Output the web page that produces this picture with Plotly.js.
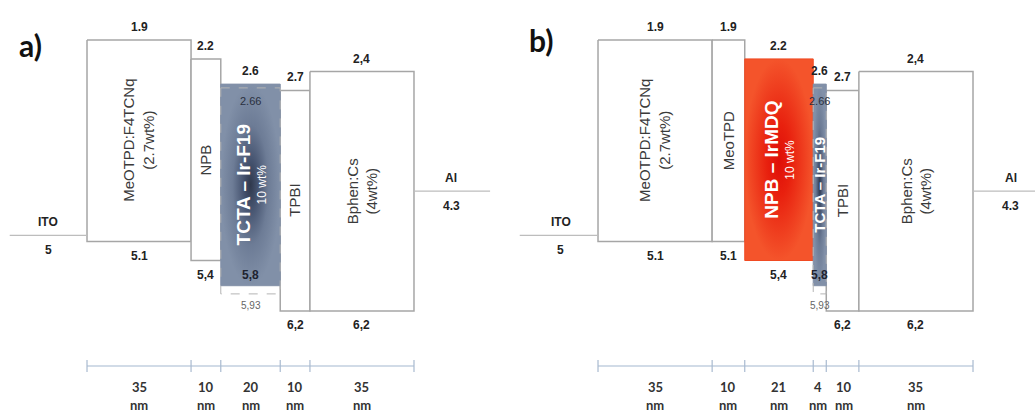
<!DOCTYPE html>
<html><head><meta charset="utf-8">
<script src="https://cdn.plot.ly/plotly-3.0.1.min.js"></script>
<style>html,body{margin:0;padding:0;background:#fff}#chart{width:1035px;height:417px}</style>
</head><body><div id="chart"></div>
<script>
// ---------- Data: panel a ----------
const aLayers = ['MeOTPD:F4TCNq<br>(2.7wt%)', 'NPB', 'TCTA – Ir-F19', 'TPBI', 'Bphen:Cs<br>(4wt%)'];
const aThickness = [35, 10, 20, 10, 35];           // nm
const aLumo = [1.9, 2.2, 2.6, 2.7, 2.4];            // eV (below vacuum)
const aHomo = [5.1, 5.4, 5.8, 6.2, 6.2];
const aLumoLabels = ['1.9', '2.2', '2.6', '2.7', '2,4'];
const aHomoLabels = ['5.1', '5,4', '5,8', '6,2', '6,2'];
const aNotes = ['', '', '10 wt%', '', ''];

// ---------- Data: panel b ----------
const bLayers = ['MeOTPD:F4TCNq<br>(2.7wt%)', 'MeoTPD', 'NPB – IrMDQ', 'TCTA – Ir-F19', 'TPBI', 'Bphen:Cs<br>(4wt%)'];
const bThickness = [35, 10, 21, 4, 10, 35];
const bLumo = [1.9, 1.9, 2.2, 2.6, 2.7, 2.4];
const bHomo = [5.1, 5.1, 5.4, 5.8, 6.2, 6.2];
const bLumoLabels = ['1.9', '1.9', '2.2', '2.6', '2.7', '2,4'];
const bHomoLabels = ['5.1', '5.1', '5,4', '5,8', '6,2', '6,2'];
const bNotes = ['', '', '10 wt%', '', '', ''];

// Ir-F19 guest levels (dashed) inside the TCTA host
const guestHost = 'TCTA – Ir-F19';
const guestLumo = 2.66, guestHomo = 5.93;
const guestLumoLabel = '2.66', guestHomoLabel = '5,93';

// Electrodes
const anodeName = 'ITO', anodeLevel = 5.0, anodeLabel = '5';
const cathodeName = 'Al', cathodeLevel = 4.3, cathodeLabel = '4.3';

// ---------- Styles ----------
const ARIAL = 'Liberation Sans, Arial, sans-serif';
const CAL = 'Lato, Open Sans, sans-serif';
const STYLE = {
  plain: {fill: '#ffffff', line: '#a6a6a6', lw: 1.5},
  'TCTA – Ir-F19': {fill: '#7b89a1', line: '#8391a8', lw: 1,
    gradient: [[0, '#2f384c'], [0.25, '#465470'], [0.6, '#6d7c96'], [1, '#8190a8']]},
  'NPB – IrMDQ': {fill: '#f04a22', line: '#f04a22', lw: 1,
    gradient: [[0, '#de0e08'], [0.35, '#e8200e'], [1, '#f4542b']]}
};

const traces = [], shapes = [], annotations = [];

function ann(o) {
  annotations.push(Object.assign({showarrow: false, yref: 'y',
    font: {family: ARIAL, size: 12, color: '#222'}}, o));
}

function panel(p) {
  const xa = p.xaxis;
  const edges = [0];
  p.thickness.forEach(t => edges.push(edges[edges.length - 1] + t));
  const total = edges[edges.length - 1];
  const order = p.layers.map((n, i) => i).sort((i, j) => (STYLE[p.layers[i]] ? 1 : 0) - (STYLE[p.layers[j]] ? 1 : 0));
  order.forEach(i => {
    const name = p.layers[i];
    const st = STYLE[name] || STYLE.plain;
    const x0 = edges[i], x1 = edges[i + 1];
    const tr = {type: 'scatter', mode: 'lines', xaxis: xa, yaxis: 'y',
      x: [x0, x1, x1, x0, x0], y: [p.lumo[i], p.lumo[i], p.homo[i], p.homo[i], p.lumo[i]],
      fill: 'toself', fillcolor: st.fill, line: {color: st.line, width: st.lw},
      hoverinfo: 'skip', showlegend: false};
    if (st.gradient) tr.fillgradient = {type: 'radial', colorscale: st.gradient};
    traces.push(tr);
  });
  p.layers.forEach((name, i) => {
    const x0 = edges[i], x1 = edges[i + 1], xm = (x0 + x1) / 2;
    const ym = (p.lumo[i] + p.homo[i]) / 2;
    const doped = !!STYLE[name];
    const narrow = (x1 - x0) * p.pxPerNm < 30;
    ann({xref: xa, x: xm, y: p.lumo[i], text: '<b>' + p.lumoLabels[i] + '</b>', yanchor: 'bottom', yshift: 4});
    if (name === guestHost) {
      ann({xref: xa, x: xm, y: p.homo[i], text: '<b>' + p.homoLabels[i] + '</b>', yanchor: 'bottom', yshift: 2,
        font: {family: ARIAL, size: 12, color: '#1e2330'}});
      traces.push({type: 'scatter', mode: 'lines', xaxis: xa, yaxis: 'y',
        x: [x0, x1, x1, x0, x0], y: [guestLumo, guestLumo, guestHomo, guestHomo, guestLumo],
        line: {color: '#b4b4b4', width: 1, dash: 'dash'}, hoverinfo: 'skip', showlegend: false});
      ann({xref: xa, x: xm, y: guestLumo, text: guestLumoLabel, yanchor: 'top', yshift: -5,
        font: {family: ARIAL, size: 11, color: '#2a3040'}});
      ann({xref: xa, x: xm, y: guestHomo, text: guestHomoLabel, yanchor: 'top', yshift: -4,
        font: {family: ARIAL, size: 10, color: '#666'}});
    } else {
      ann({xref: xa, x: xm, y: p.homo[i], text: '<b>' + p.homoLabels[i] + '</b>', yanchor: 'top', yshift: -5});
    }
    if (doped) {
      const hasNote = !!p.notes[i];
      ann({xref: xa, x: xm, y: ym, text: '<b>' + name + '</b>', textangle: -90,
        xshift: hasNote ? -7 : 0, font: {family: ARIAL, size: narrow ? 15 : 19, color: '#ffffff'}});
      if (hasNote) ann({xref: xa, x: xm, y: ym, text: p.notes[i], textangle: -90, xshift: 11,
        font: {family: ARIAL, size: 12, color: '#ffffff'}});
    } else {
      ann({xref: xa, x: xm, y: ym, text: name, textangle: -90,
        font: {family: ARIAL, size: 15, color: '#3a3a3a'}});
    }
  });
  // electrodes
  traces.push({type: 'scatter', mode: 'lines', xaxis: xa, yaxis: 'y',
    x: [-p.anodeLead, 0], y: [anodeLevel, anodeLevel], line: {color: '#bdbdbd', width: 1.2},
    hoverinfo: 'skip', showlegend: false});
  traces.push({type: 'scatter', mode: 'lines', xaxis: xa, yaxis: 'y',
    x: [total, total + p.cathodeLead], y: [cathodeLevel, cathodeLevel], line: {color: '#bdbdbd', width: 1.2},
    hoverinfo: 'skip', showlegend: false});
  ann({xref: xa, x: -p.anodeLabelPos, y: anodeLevel, text: '<b>' + anodeName + '</b>', yanchor: 'bottom', yshift: 4});
  ann({xref: xa, x: -p.anodeLabelPos, y: anodeLevel, text: '<b>' + anodeLabel + '</b>', yanchor: 'top', yshift: -6});
  ann({xref: xa, x: total + p.cathodeLabelPos, y: cathodeLevel, text: '<b>' + cathodeName + '</b>', yanchor: 'bottom', yshift: 4});
  ann({xref: xa, x: total + p.cathodeLabelPos, y: cathodeLevel, text: '<b>' + cathodeLabel + '</b>', yanchor: 'top', yshift: -6});
  // thickness scale bar
  const barY = 1 - 366 / 417;
  shapes.push({type: 'line', xref: xa, yref: 'paper', x0: 0, x1: total, y0: barY, y1: barY,
    line: {color: '#c2cfdf', width: 1.5}});
  edges.forEach(e => shapes.push({type: 'line', xref: xa, yref: 'paper', ysizemode: 'pixel', yanchor: barY,
    x0: e, x1: e, y0: -6, y1: 6, line: {color: '#a9bad0', width: 1.2}}));
  // label centres (px) with simple overlap avoidance
  const mids = p.thickness.map((t, i) => (edges[i] + edges[i + 1]) / 2);
  const shifts = mids.map(() => 0);
  const minGap = 26;
  for (let it = 0; it < 20; it++) {
    for (let i = 0; i < mids.length - 1; i++) {
      const a = mids[i] * p.pxPerNm + shifts[i], b = mids[i + 1] * p.pxPerNm + shifts[i + 1];
      if (b - a < minGap) { const d = (minGap - (b - a)) / 2; shifts[i] -= d; shifts[i + 1] += d; }
    }
  }
  p.thickness.forEach((t, i) => {
    annotations.push({xref: xa, yref: 'paper', x: mids[i], xshift: shifts[i], y: 1 - 387 / 417, yanchor: 'middle',
      text: '<b>' + t + '</b>', showarrow: false, font: {family: CAL, size: 13, color: '#333'}});
    annotations.push({xref: xa, yref: 'paper', x: mids[i], xshift: shifts[i], y: 1 - 405 / 417, yanchor: 'middle',
      text: '<b>nm</b>', showarrow: false, font: {family: CAL, size: 13, color: '#333'}});
  });
  annotations.push({xref: 'paper', yref: 'paper', x: p.letterX, y: p.letterY, xanchor: 'center', yanchor: 'middle',
    text: '<b>' + p.letter + '</b>', showarrow: false, font: {family: CAL, size: 30, color: '#111'}});
}

const rangeA = [-29.27, 144.82], rangeB = [-24.69, 134.01];
panel({xaxis: 'x', layers: aLayers, thickness: aThickness, lumo: aLumo, homo: aHomo,
  lumoLabels: aLumoLabels, homoLabels: aHomoLabels, notes: aNotes, pxPerNm: 517.5 / (rangeA[1] - rangeA[0]),
  anodeLead: 26, anodeLabelPos: 13, cathodeLead: 25.6, cathodeLabelPos: 12.5,
  letter: 'a)', letterX: 30 / 1035, letterY: 1 - 45 / 417});
panel({xaxis: 'x2', layers: bLayers, thickness: bThickness, lumo: bLumo, homo: bHomo,
  lumoLabels: bLumoLabels, homoLabels: bHomoLabels, notes: bNotes, pxPerNm: 517.5 / (rangeB[1] - rangeB[0]),
  anodeLead: 24, anodeLabelPos: 11.5, cathodeLead: 20, cathodeLabelPos: 11.5,
  letter: 'b)', letterX: 541 / 1035, letterY: 1 - 40 / 417});

const hidden = {showgrid: false, zeroline: false, showticklabels: false, ticks: '', showline: false, fixedrange: true};
const layout = {
  width: 1035, height: 417, margin: {l: 0, r: 0, t: 0, b: 0},
  paper_bgcolor: '#ffffff', plot_bgcolor: 'rgba(0,0,0,0)', showlegend: false,
  xaxis: Object.assign({domain: [0, 0.5], range: rangeA}, hidden),
  xaxis2: Object.assign({domain: [0.5, 1], range: rangeB, anchor: 'y'}, hidden),
  yaxis: Object.assign({range: [7.884, 1.265]}, hidden),
  shapes: shapes, annotations: annotations
};
Plotly.newPlot('chart', traces, layout, {displayModeBar: false, staticPlot: true});
</script></body></html>
